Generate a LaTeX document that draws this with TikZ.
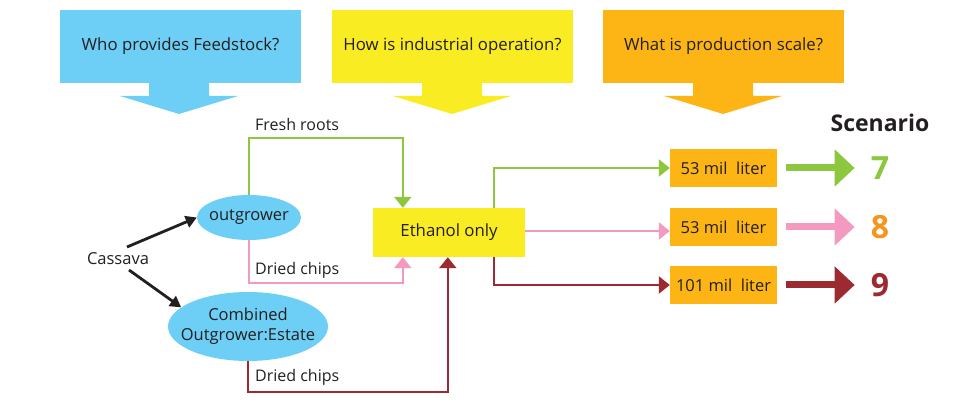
\documentclass[tikz,border=0pt]{standalone}
\usepackage{fontspec}
\setmainfont{Open Sans}
\usetikzlibrary{arrows.meta,shapes.geometric}
\definecolor{cblue}{HTML}{6DCFF6}
\definecolor{cyellow}{HTML}{F9EC22}
\definecolor{corange}{HTML}{FDB515}
\definecolor{cgreen}{HTML}{8DC63F}
\definecolor{cpink}{HTML}{F49AC1}
\definecolor{cred}{HTML}{9B2B31}
\definecolor{cnum}{HTML}{F7941D}
\definecolor{ctext}{HTML}{231F20}
\begin{document}
\begin{tikzpicture}[x=1pt,y=-1pt,
  every node/.style={text=ctext},
  qbox/.style={minimum width=241pt,minimum height=73pt,inner sep=0pt,font=\fontsize{16.8}{19}\selectfont},
  ebox/.style={fill=cyellow,minimum width=152pt,minimum height=49pt,inner sep=0pt,font=\fontsize{16.8}{19}\selectfont},
  obox/.style={fill=corange,minimum width=107pt,minimum height=38pt,inner sep=0pt,font=\fontsize{16.5}{19}\selectfont},
  oval/.style={ellipse,fill=cblue,inner sep=0pt},
  ovaltext/.style={text=ctext,font=\fontsize{16.5}{20}\selectfont,align=center,inner sep=0pt},
  lbl/.style={font=\fontsize{16}{18}\selectfont,inner sep=0pt},
  conn/.style={line width=2.5pt,-{Triangle[length=11pt,width=17pt]}},
  blk/.style={line width=2.8pt,ctext,-{Triangle[length=11pt,width=12pt]}},
  big/.style={line width=7pt,-{Triangle[length=20pt,width=36pt]}},
  num/.style={font=\bfseries\fontsize{32}{36}\selectfont,inner sep=0pt},
]
\useasboundingbox (0,0) rectangle (968,411);
% question callouts
\node[qbox,fill=cblue] (q1) at (180.5,46.5) {Who provides Feedstock?};
\fill[cblue] (149,83) -- (209,83) -- (209,96) -- (238,96) -- (179,114) -- (120,96) -- (149,96) -- cycle;
\node[qbox,fill=cyellow] (q2) at (452.5,46.5) {How is industrial operation?};
\fill[cyellow] (422,83) -- (482,83) -- (482,96) -- (511,96) -- (452,114) -- (393,96) -- (422,96) -- cycle;
\node[qbox,fill=corange] (q3) at (723.5,46.5) {What is production scale?};
\fill[corange] (693,83) -- (753,83) -- (753,96) -- (782,96) -- (723,114) -- (664,96) -- (693,96) -- cycle;
% nodes
\node[lbl,font=\fontsize{16.5}{19}\selectfont] (cas) at (118,259) {Cassava};
\node[oval,minimum width=104pt,minimum height=45pt,
  label={[ovaltext]center:outgrower}] (og) at (249,217.5) {};
\node[oval,minimum width=160pt,minimum height=69pt,
  label={[ovaltext]center:Combined\\Outgrower:Estate}] (cb) at (248,326.5) {};
\node[ebox] (eth) at (449,232.5) {Ethanol only};
\node[obox] (b1) at (723.5,168) {53 mil\ \ liter};
\node[obox] (b2) at (723.5,227) {53 mil\ \ liter};
\node[obox] (b3) at (723.5,285) {101 mil\ \ liter};
\node[font=\bfseries\fontsize{23}{26}\selectfont,inner sep=0pt] (sc) at (880,123) {Scenario};
\node[num,text=cgreen] (n7) at (880,168) {7};
\node[num,text=cnum] (n8) at (880,227) {8};
\node[num,text=cred] (n9) at (880,285) {9};
% black arrows
\coordinate (c1) at (127,247);
\coordinate (c2) at (129,270);
\draw[blk] (c1) -- (og.west);
\draw[blk] (c2) -- (cb.164);
% flows into ethanol box
\draw[conn,cgreen] (og.north) -- ++(0,-57) -| ([xshift=30pt]eth.north west);
\draw[conn,cpink] (og.south) -- ++(0,43) -| ([xshift=30pt]eth.south west);
\draw[conn,cred] (cb.south) -- ++(0,31) -| ([xshift=75pt]eth.south west);
\node[lbl,anchor=west] (l1) at (255,125) {Fresh roots};
\node[lbl,anchor=west] (l2) at (255,270) {Dried chips};
\node[lbl,anchor=west] (l3) at (255,377) {Dried chips};
% flows out
\draw[conn,cgreen] ([xshift=121pt]eth.north west) |- (b1.west);
\draw[conn,cpink] ([yshift=1.5pt]eth.east) -- ([yshift=1.5pt]eth.east -| b2.west);
\draw[conn,cred] ([xshift=121pt]eth.south west) |- (b3.west);
% big arrows
\draw[big,cgreen] (b1.east) ++(9,0) coordinate (s1) (s1) -- ([xshift=-16pt]n7.west);
\draw[big,cpink] (b2.east) ++(9,0) coordinate (s2) (s2) -- ([xshift=-16pt]n8.west);
\draw[big,cred] (b3.east) ++(9,0) coordinate (s3) (s3) -- ([xshift=-16pt]n9.west);
\end{tikzpicture}
\end{document}
